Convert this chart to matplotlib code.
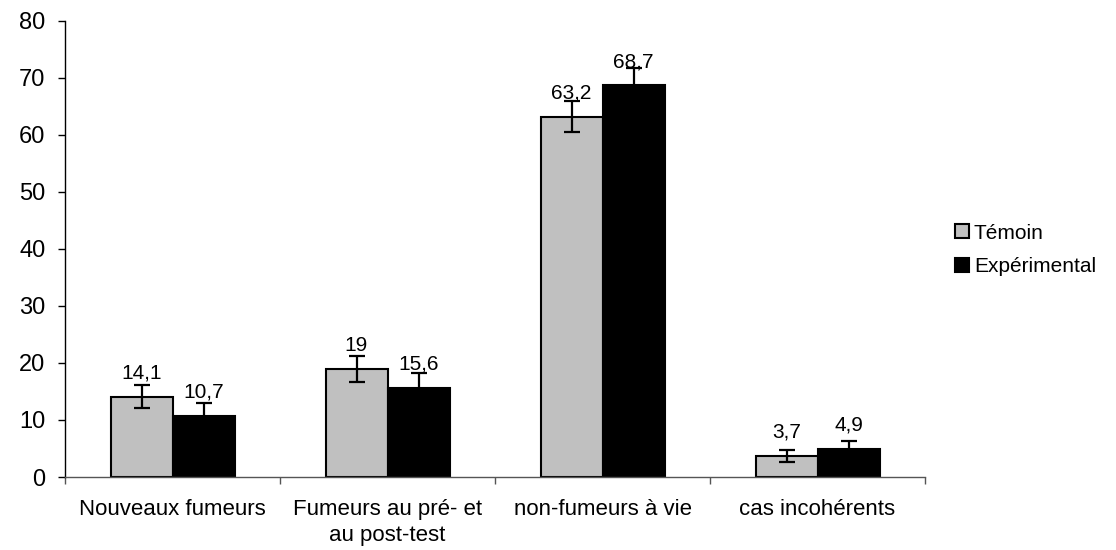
import matplotlib
matplotlib.use("Agg")
import matplotlib.pyplot as plt
import numpy as np
from matplotlib.patches import Patch

plt.rcParams['font.family'] = ['Liberation Sans', 'DejaVu Sans']

categories = ["Nouveaux fumeurs", "Fumeurs au pré- et\nau post-test", "non-fumeurs à vie", "cas incohérents"]
temoin = [14.1, 19.0, 63.2, 3.7]
experimental = [10.7, 15.6, 68.7, 4.9]
temoin_err = [2.0, 2.3, 2.7, 1.05]
experimental_err = [2.3, 2.6, 3.0, 1.4]
temoin_labels = ["14,1", "19", "63,2", "3,7"]
experimental_labels = ["10,7", "15,6", "68,7", "4,9"]
yticks = [0, 10, 20, 30, 40, 50, 60, 70, 80]

fig = plt.figure(figsize=(11.16, 5.50), dpi=100)
ax = fig.add_axes([65/1116, 73/550, 860/1116, 456.3/550])

x = np.arange(len(categories)) + 0.5
w = 62/215
ekw = dict(elinewidth=1.6, capthick=1.6, ecolor='black')
ax.bar(x - w/2, temoin, w, color='#C0C0C0', edgecolor='black', linewidth=1.5,
       yerr=temoin_err, capsize=5.5, error_kw=ekw, zorder=2)
ax.bar(x + w/2, experimental, w, color='black', edgecolor='black', linewidth=1.5,
       yerr=experimental_err, capsize=5.5, error_kw=ekw, zorder=2)

for xi, v, lab in zip(x - w/2, temoin, temoin_labels):
    ax.annotate(lab, (xi, v), xytext=(0, 17), textcoords='offset points',
                ha='center', va='center', fontsize=15, zorder=1)
for xi, v, lab in zip(x + w/2, experimental, experimental_labels):
    ax.annotate(lab, (xi, v), xytext=(0, 17), textcoords='offset points',
                ha='center', va='center', fontsize=15, zorder=1)

ax.set_xlim(0, 4)
ax.set_ylim(0, 80)
ax.set_yticks(yticks)
ax.set_yticklabels([str(t) for t in yticks], fontsize=17)
ax.tick_params(axis='y', length=5, width=1, pad=9, direction='out')

ax.set_xticks(np.arange(0, 5))
ax.set_xticklabels([])
ax.tick_params(axis='x', which='major', length=5, width=1, direction='out', color='#555555')
ax.set_xticks(x, minor=True)
ax.set_xticklabels(categories, minor=True, fontsize=16, linespacing=1.3)
ax.tick_params(axis='x', which='minor', length=0, pad=16)

ax.spines['top'].set_visible(False)
ax.spines['right'].set_visible(False)
ax.spines['left'].set_linewidth(1)
ax.spines['bottom'].set_color('#555555')
ax.spines['bottom'].set_linewidth(1)

handles = [Patch(facecolor='#C0C0C0', edgecolor='black', linewidth=1.5, label='Témoin'),
           Patch(facecolor='black', edgecolor='black', linewidth=1.5, label='Expérimental')]
fig.legend(handles=handles, loc='center left', bbox_to_anchor=(955/1116, 1 - 250/550),
           frameon=False, fontsize=15, handlelength=0.65, handleheight=0.65,
           handletextpad=0.25, labelspacing=0.7, borderaxespad=0, borderpad=0)

fig.savefig("out.png", dpi=100)
